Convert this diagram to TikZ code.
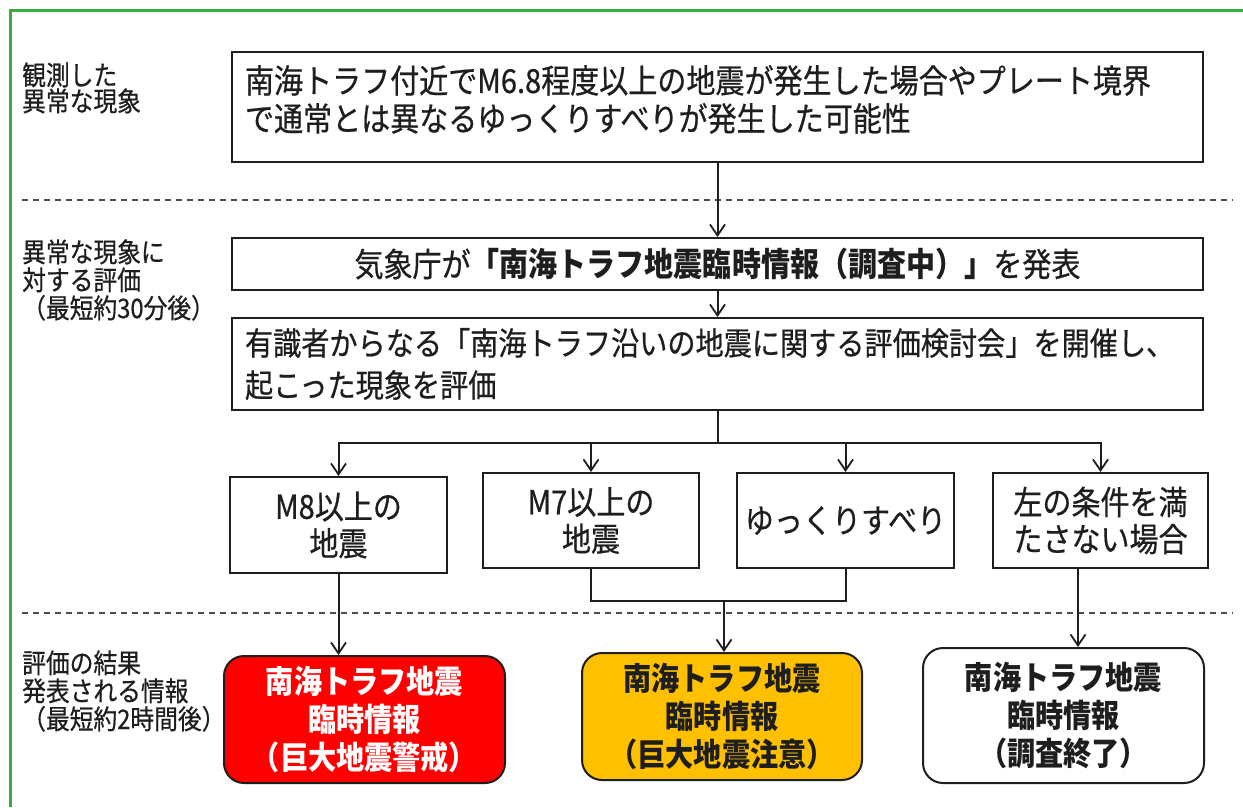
\documentclass[tikz,border=0pt]{standalone}
\usepackage{fontspec}
\setmainfont{Noto Sans CJK JP}[FakeStretch=0.88, UprightFeatures={FakeBold=0.6}]
\usetikzlibrary{arrows.meta}
\definecolor{frameg}{RGB}{60,170,60}
\definecolor{infored}{RGB}{255,0,0}
\definecolor{infoyel}{RGB}{255,192,0}
\definecolor{ink}{RGB}{30,30,30}
\newcommand\fsMain{\fontsize{33}{38}\selectfont}
\newcommand\fsMainB{\fontsize{32}{42}\selectfont}
\newcommand\fsSmall{\fontsize{33}{37}\selectfont}
\newcommand\fsInfo{\fontsize{32}{38}\selectfont}
\newcommand\fsLblA{\fontsize{27}{25}\selectfont}
\newcommand\fsLblB{\fontsize{27}{28}\selectfont}
\begin{document}
\begin{tikzpicture}[x=1pt,y=-1pt,
  box/.style={draw=ink, line width=2pt, fill=white, inner sep=0pt, text=ink},
  lbl/.style={anchor=west, align=left, inner sep=0pt, text=ink},
  arr/.style={line width=2pt, draw=ink, -{Straight Barb[length=11pt,width=15pt,line width=1.8pt]}},
  ln/.style={line width=2pt, draw=ink},
  info/.style={draw=ink, line width=2pt, rounded corners=20pt, align=center, inner sep=0pt, font=\fsInfo\bfseries, minimum width=281},
  sep/.style={dash pattern=on 6pt off 5pt, line width=1.2pt, draw=black!70}
]
\useasboundingbox (0,0) rectangle (1243,807);
\fill[white] (0,0) rectangle (1243,807);
\draw[frameg, line width=3pt] (10,807) -- (10,10) -- (1243,10);

% separators
\draw[sep] (22,200) -- (1233,200);
\draw[sep] (22,613) -- (1233,613);

% left labels
\node[lbl, font=\fsLblA] (l1) at (22,88) {観測した\\異常な現象};
\node[lbl, font=\fsLblB] (l2) at (22,280) {異常な現象に\\対する評価\\（最短約30分後）};
\node[lbl, font=\fsLblB] (l3) at (22,691) {評価の結果\\発表される情報\\（最短約2時間後）};

% main boxes
\node[box, minimum width=971, minimum height=110, text width=945, align=left, font=\fsMain] (b1) at (717.5,107)
  {南海トラフ付近でM6.8程度以上の地震が発生した場合やプレート境界\\で通常とは異なるゆっくりすべりが発生した可能性\\[-20pt]\mbox{}};
\node[box, minimum width=971, minimum height=52, font=\fsMain] (b2) at (717.5,264)
  {気象庁が{\bfseries「南海トラフ地震臨時情報（調査中）」}を発表};
\node[box, minimum width=971, minimum height=92, text width=945, align=left, font=\fsMainB] (b3) at (717.5,364)
  {有識者からなる「南海トラフ沿いの地震に関する評価検討会」を開催し、\\起こった現象を評価};

% condition boxes
\node[box, minimum width=217, minimum height=96, align=center, font=\fsSmall] (m8) at (338.5,525) {M8以上の\\地震};
\node[box, minimum width=216, minimum height=95, align=center, font=\fsSmall] (m7) at (591,520.5) {M7以上の\\地震};
\node[box, minimum width=217, minimum height=95, align=center, font=\fsSmall] (slow) at (845.5,520.5) {ゆっくりすべり};
\node[box, minimum width=215, minimum height=95, align=center, font=\fsSmall] (other) at (1100.5,520.5) {左の条件を満\\たさない場合};

% info boxes
\node[info, fill=infored, text=white, minimum height=127] (red) at (364.5,719.5) {南海トラフ地震\\臨時情報\\（巨大地震警戒）};
\node[info, fill=infoyel, text=ink, minimum width=280, minimum height=127] (yel) at (722,716.5) {南海トラフ地震\\臨時情報\\（巨大地震注意）};
\node[info, fill=white, text=ink, minimum height=135] (wht) at (1063.5,715.5) {南海トラフ地震\\臨時情報\\（調査終了）};

% connectors
\draw[arr] (b1) -- (b2);
\draw[arr] (b2) -- (b3);
\coordinate (j1) at (717.5,443);
\draw[ln] (b3.south) -- (j1);
\draw[ln, line cap=rect] (m8.north |- j1) -- (other.north |- j1);
\draw[arr] (m8.north |- j1) -- (m8.north);
\draw[arr] (m7.north |- j1) -- (m7.north);
\draw[arr] (slow.north |- j1) -- (slow.north);
\draw[arr] (other.north |- j1) -- (other.north);

\draw[arr] (m8.south) -- (m8.south |- red.north);
\coordinate (j2) at (724,601);
\draw[ln] (m7.south) |- (j2) -| (slow.south);
\draw[arr] (j2) -- (j2 |- yel.north);
\coordinate (j3) at (1078,600);
\draw[arr] (other.south -| j3) -- (j3 |- wht.north);
\end{tikzpicture}
\end{document}
